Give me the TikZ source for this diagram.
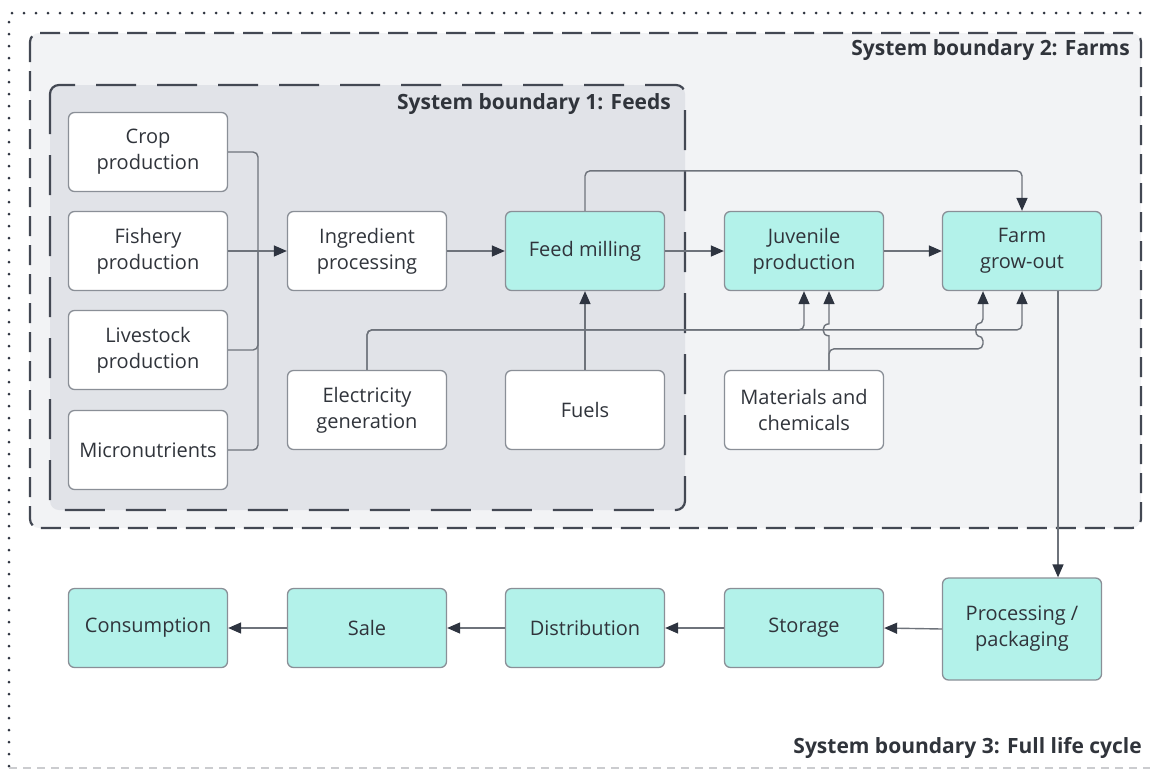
\documentclass[tikz,border=0pt]{standalone}
\usepackage{fontspec}
\setmainfont{Open Sans}
\usetikzlibrary{arrows.meta}
\definecolor{ink}{HTML}{2E3440}
\definecolor{txt}{HTML}{30343B}
\definecolor{edge}{HTML}{8A8F97}
\definecolor{wire}{HTML}{6E737B}
\definecolor{teal}{HTML}{B3F2EA}
\definecolor{farmbg}{HTML}{F2F3F5}
\definecolor{feedbg}{HTML}{E1E3E8}
\tikzset{
  box/.style={draw=edge, line width=1.3pt, rounded corners=6pt, fill=white,
    minimum width=159pt, minimum height=79pt, inner sep=0pt, align=center,
    text=txt, font=\fontsize{20}{26}\selectfont},
  tealbox/.style={box, fill=teal},
  conn/.style={draw=wire, line width=1.4pt, rounded corners=5pt},
  arr/.style={conn, -{Triangle[length=13pt,width=11pt,color=ink]}},
  bound/.style={draw=ink!90, line width=2.2pt, rounded corners=9pt},
  blabel/.style={text=txt, font=\bfseries\fontsize{21}{26}\selectfont, anchor=east, inner sep=0pt}
}
\begin{document}
\begin{tikzpicture}[x=1pt,y=-1pt]
\useasboundingbox (0,0) rectangle (1150,769);
% system boundary 3 (full life cycle)
\draw[ink, line width=3pt, line cap=round, dash pattern=on 0pt off 12pt] (1152,13) -- (9,13) -- (9,767);
\draw[ink!25, line width=1.5pt, dash pattern=on 8pt off 6pt] (9,768) -- (1150,768);
% system boundary 2 (farms)
\draw[bound, fill=farmbg, dash pattern=on 20pt off 9pt] (30,33) rectangle (1141,528);
% system boundary 1 (feeds)
\draw[bound, fill=feedbg, dash pattern=on 40pt off 21pt] (50,85) rectangle (685,510);
\node[blabel] (b2) at (1130,50) {System boundary 2: Farms};
\node[blabel] (b1) at (671,104) {System boundary 1: Feeds};
\node[blabel] (b3) at (1142,748) {System boundary 3: Full life cycle};

% feed inputs
\node[box] (crop) at (148,152) {Crop\\production};
\node[box] (fish) at (148,251) {Fishery\\production};
\node[box] (live) at (148,350) {Livestock\\production};
\node[box] (micro) at (148,450) {Micronutrients};
\node[box] (ingr) at (367,251) {Ingredient\\processing};
\node[box] (elec) at (367,410) {Electricity\\generation};
\node[box] (fuel) at (585,410) {Fuels};
\node[tealbox] (feed) at (585,251) {Feed milling};
\node[tealbox] (juv) at (804,251) {Juvenile\\production};
\node[tealbox] (farm) at (1022,251) {Farm\\grow-out};
\node[box] (mat) at (804,410) {Materials and\\chemicals};
% downstream chain
\node[tealbox, minimum height=102pt] (proc) at (1022,629) {Processing /\\packaging};
\node[tealbox] (stor) at (804,628) {Storage};
\node[tealbox] (dist) at (585,628) {Distribution};
\node[tealbox] (sale) at (367,628) {Sale};
\node[tealbox] (cons) at (148,628) {Consumption};

% merging the raw inputs
\coordinate (mrg) at (258,251);
\draw[conn] (crop.east) -| (mrg);
\draw[conn] (live.east) -| (mrg);
\draw[conn] (micro.east) -| (mrg);
\draw[arr] (fish.east) -- (ingr.west);
\draw[arr] (ingr.east) -- (feed.west);
\draw[arr] (feed.east) -- (juv.west);
\draw[arr] (juv.east) -- (farm.west);
% feed delivered straight to grow-out
\draw[arr] (feed.north) -- ++(0,-40) -| (farm.north);
% energy supply
\draw[arr] (fuel.north) -- (feed.south);
\draw[arr] (elec.north) -- ++(0,-40) -| (juv.south);
\draw[arr] (elec.north) -- ++(0,-40) -| (farm.south);
% materials and chemicals, hopping over the power line
\coordinate (m1) at ([xshift=25pt]mat.north);
\coordinate (m2) at ([xshift=-39pt]farm.south);
\draw[arr, rounded corners=0pt] (m1) -- ++(0,-34)
  .. controls +(-8,0) and +(-8,0) .. ++(0,-12) -- (m2 -| m1);
\draw[arr] (m1) -- ++(0,-21) -| ++(154,-13)
  .. controls +(-8,0) and +(-8,0) .. ++(0,-12) -- (m2);
% product flow to the consumer
\draw[arr] ([xshift=36pt]farm.south) -- ([xshift=36pt]proc.north);
\draw[arr] (proc.west) -- (stor.east);
\draw[arr] (stor.west) -- (dist.east);
\draw[arr] (dist.west) -- (sale.east);
\draw[arr] (sale.west) -- (cons.east);
\end{tikzpicture}
\end{document}
